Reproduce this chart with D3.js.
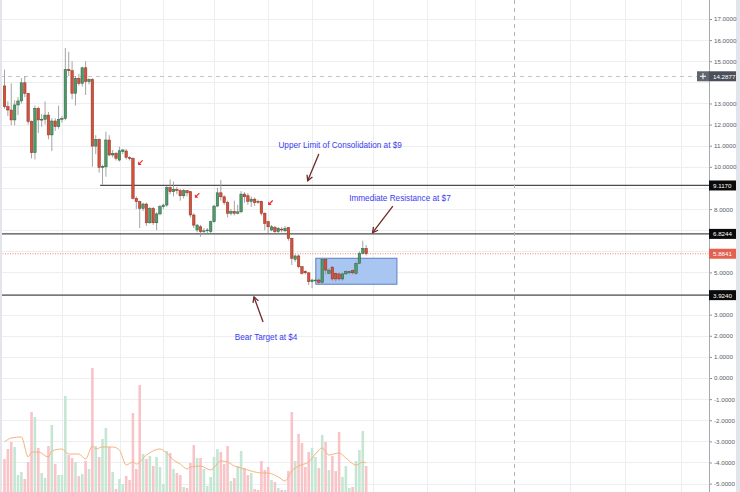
<!DOCTYPE html>
<html><head><meta charset="utf-8">
<script src="https://cdn.jsdelivr.net/npm/d3@7"></script>
<style>body{margin:0;background:#fff;overflow:hidden}svg{display:block;font-family:"Liberation Sans",Arial,sans-serif}</style>
</head><body><svg id="c" width="740" height="492"></svg>
<script>
// ---- data ----
const opens  = [13.83,12.85,12.69,12.22,12.93,13.12,13.98,13.48,12.14,10.67,12.77,12.22,12.25,12.45,11.51,12.17,11.9,12.25,12.29,14.61,14.55,13.48,14.19,13.95,14.69,14.03,14.14,10.98,11.30,9.97,10.0,11.27,10.56,10.64,10.32,10.72,10.75,10.43,10.40,8.51,8.35,8.03,8.24,7.35,8.03,7.35,7.77,8.11,8.19,9.01,8.82,8.93,8.87,8.63,8.87,8.82,7.72,7.01,7.16,6.93,6.97,6.93,7.40,8.14,8.77,8.58,8.30,7.80,7.89,7.80,7.87,8.71,8.63,8.36,8.47,8.36,8.36,7.80,7.40,7.01,7.13,6.93,7.05,6.97,7.13,6.61,5.62,5.78,5.27,5.05,4.98,4.56,4.60,4.64,4.53,5.62,4.96,5.25,4.96,4.93,4.69,4.93,4.98,5.08,4.95,5.43,5.90,6.14];
const highs  = [14.6,13.1,13.95,13.15,13.3,14.2,14.3,13.5,12.2,12.9,12.85,12.5,13.1,12.6,12.3,12.3,12.9,12.4,15.62,15.45,15.0,14.3,14.4,14.75,15.0,14.2,14.2,11.5,11.35,10.1,11.66,11.5,10.8,10.7,10.95,10.85,10.85,10.5,10.45,8.6,8.4,8.3,8.3,8.1,8.1,7.85,8.2,8.25,9.1,9.4,9.3,9.05,8.95,8.95,8.9,8.85,7.8,7.3,7.25,7.1,7.1,7.45,8.2,9.0,9.37,8.65,8.4,8.0,8.4,8.2,8.85,8.8,8.75,8.6,8.55,8.45,8.4,7.85,7.45,7.25,7.2,7.15,7.15,7.2,7.15,6.65,5.85,5.85,5.3,5.1,5.0,4.7,4.8,4.7,5.7,5.65,5.2,5.3,5.0,5.0,5.0,5.1,5.1,5.15,5.5,6.0,6.5,6.3];
const lows   = [12.75,12.4,11.97,11.97,12.45,13.0,13.3,12.0,10.4,10.35,11.6,11.9,12.0,11.3,10.75,11.7,11.8,12.1,12.2,14.3,13.2,12.9,13.85,13.8,13.4,13.9,10.0,10.6,9.72,9.14,9.53,10.5,10.45,10.3,10.25,10.6,10.35,10.3,8.45,8.0,7.1,7.9,7.2,7.3,7.25,7.0,7.7,8.0,8.1,8.7,8.6,8.7,8.4,8.5,8.6,7.6,7.1,6.9,6.69,6.8,6.85,6.85,7.35,8.1,8.4,8.2,7.6,7.7,7.7,7.75,7.8,8.3,8.2,8.1,8.15,8.25,7.7,7.0,6.85,6.95,6.85,6.85,6.9,6.9,6.5,5.35,5.5,5.2,4.9,4.9,4.4,4.25,4.5,4.45,4.45,4.9,4.9,4.6,4.55,4.6,4.6,4.9,4.9,4.9,4.9,5.4,5.85,5.8];
const closes = [12.85,12.69,12.22,12.93,13.12,13.98,13.48,12.14,10.67,12.77,12.22,12.25,12.45,11.51,12.17,11.9,12.25,12.29,14.61,14.55,13.48,14.19,13.95,14.69,14.03,14.14,10.98,11.30,9.97,10.02,11.27,10.56,10.64,10.40,10.76,10.80,10.45,10.40,8.51,8.35,8.03,8.24,7.35,8.03,7.35,7.77,8.11,8.19,9.01,8.82,8.93,8.87,8.63,8.87,8.77,7.72,7.24,7.24,6.93,6.97,7.01,7.40,8.14,8.77,8.58,8.30,7.80,7.89,7.80,7.87,8.71,8.58,8.36,8.47,8.30,8.33,7.80,7.32,7.16,7.16,6.93,7.09,7.01,7.09,6.61,5.67,5.78,5.27,4.96,4.98,4.56,4.64,4.64,4.53,5.62,5.11,5.11,4.69,4.69,4.69,4.93,5.04,5.04,4.98,5.43,5.90,6.14,5.884];
const volumes= [33,43,50,45,17,20,13,30,80,75,44,19,14,46,67,28,17,17,96,37,34,30,16,18,31,23,124,46,35,53,64,45,20,3,13,8,16,12,79,23,107,38,33,36,26,35,25,8,41,39,23,19,17,5,4,29,47,34,34,23,6,15,35,43,40,28,46,11,14,26,41,24,17,19,3,2,31,22,25,12,10,4,2,2,21,80,31,58,49,25,40,44,35,24,57,50,22,36,21,60,15,26,4,5,31,42,61,26];
// volume moving-average line, read at these candle positions
const maIndex = [0,2,5,7,8,10,13,14,17,19,22,24,26,27,29,32,34,36,38,39,42,46,48,50,52,54,55,58,61,64,66,68,70,73,76,78,81,83,85,87,90,92,94,96,99,101,104,106,107];
const maValue = [50,54,55,35,40,40,35,41,43,38,38,33,46,43,45,45,42,27,30,28,37,43,39,32,28,23,25,26,22,31,30,26,24,21,19,19,15,11,21,26,30,38,44,37,39,34,27,30,29];
const priceTicks = [-5,-4,-3,-2,-1,0,1,2,3,4,5,6,7,8,9,10,11,12,13,14,15,16,17];
const gridIndex = [17,34.2,46.9,62,77.9,91,109,125,139.2,167.3,183.6,200.1];
const levels = [{v:9.117,from:28.3},{v:6.8244,from:-2},{v:3.924,from:-2}];
const lastPrice = 5.8841;
const crossPrice = 14.2877, crossIndex = 150.8;
const zone = {i0:92.1,i1:116.1,p0:5.67,p1:4.44};
const notes = [
  {text:"Upper Limit of Consolidation at $9", i:99.3, p:11.03, ax:93.0, ay:10.61, bx:89.7, by:9.34},
  {text:"Immediate Resistance at $7", i:117.0, p:8.52, ax:114.9, ay:8.14, bx:108.9, by:6.88},
  {text:"Bear Target at $4", i:77.4, p:1.94, ax:76.5, ay:2.65, bx:73.8, by:3.84}
];
const markers = [{i:40.2,p:10.2},{i:57.0,p:8.65},{i:78.7,p:8.3}];

// ---- drawing ----
const svg = d3.select('#c');
const plotR = 709;
const x = d3.scaleLinear().domain([0,209]).range([4.5,4.5+209*3.38]);
const y = d3.scaleLinear().domain([-5,17]).range([483.6,19]);
const yv = d3.scaleLinear().domain([0,130]).range([492,362]);
const N = closes.length;
const data = d3.range(N).map(i=>({i,o:opens[i],h:highs[i],l:lows[i],c:closes[i],v:volumes[i]}));

svg.append('rect').attr('width',740).attr('height',492).attr('fill','#fff');
svg.append('defs').append('clipPath').attr('id','pc').append('rect').attr('x',0).attr('y',0).attr('width',plotR).attr('height',492);
const g = svg.append('g').attr('clip-path','url(#pc)');

// grid
g.selectAll('.hg').data(priceTicks).join('line')
  .attr('x1',0).attr('x2',plotR).attr('y1',d=>Math.round(y(d))+0.5).attr('y2',d=>Math.round(y(d))+0.5)
  .attr('stroke','#eceef0').attr('stroke-width',1);
g.selectAll('.vg').data(gridIndex).join('line')
  .attr('x1',d=>Math.round(x(d))+0.5).attr('x2',d=>Math.round(x(d))+0.5).attr('y1',0).attr('y2',492)
  .attr('stroke','#eceef0').attr('stroke-width',1);

// volume
g.selectAll('.vol').data(data).join('rect')
  .attr('x',d=>x(d.i)-1.3).attr('width',2.6)
  .attr('y',d=>yv(d.v)).attr('height',d=>yv(0)-yv(d.v)+4)
  .attr('fill',d=>d.c>=d.o?'#c6e6d4':'#f8c4c8');
g.append('path').datum(maIndex.map((k,j)=>[k,maValue[j]]))
  .attr('d',d3.line().x(d=>x(d[0])).y(d=>yv(d[1])).curve(d3.curveMonotoneX))
  .attr('fill','none').attr('stroke','#f6b27e').attr('stroke-width',1);

// zone box
g.append('rect').attr('x',x(zone.i0)).attr('width',x(zone.i1)-x(zone.i0))
  .attr('y',y(zone.p0)).attr('height',y(zone.p1)-y(zone.p0))
  .attr('fill','#a9c5f2').attr('stroke','#5d7fc3').attr('stroke-width',1);

// level lines
g.selectAll('.lvl').data(levels).join('line')
  .attr('x1',d=>x(d.from)).attr('x2',plotR).attr('y1',d=>y(d.v)).attr('y2',d=>y(d.v))
  .attr('stroke','#4d4d4d').attr('stroke-width',1.3);
// last price dotted
g.append('line').attr('x1',0).attr('x2',plotR).attr('y1',y(lastPrice)).attr('y2',y(lastPrice))
  .attr('stroke','#e4685a').attr('stroke-width',0.8).attr('stroke-dasharray','1,1.5');
// crosshair
g.append('line').attr('x1',0).attr('x2',697).attr('y1',Math.round(y(crossPrice))+0.5).attr('y2',Math.round(y(crossPrice))+0.5)
  .attr('stroke','#c3c5ca').attr('stroke-width',1).attr('stroke-dasharray','4,4');
g.append('line').attr('x1',Math.round(x(crossIndex))+0.5).attr('x2',Math.round(x(crossIndex))+0.5).attr('y1',0).attr('y2',492)
  .attr('stroke','#b3b5bb').attr('stroke-width',1).attr('stroke-dasharray','4,4');

// candles
const cg = g.append('g');
cg.selectAll('.wick').data(data).join('line')
  .attr('x1',d=>x(d.i)).attr('x2',d=>x(d.i)).attr('y1',d=>y(d.h)).attr('y2',d=>y(d.l))
  .attr('stroke','#9a9a9a').attr('stroke-width',0.9);
cg.selectAll('.body').data(data).join('rect')
  .attr('x',d=>x(d.i)-1.25).attr('width',2.5)
  .attr('y',d=>y(Math.max(d.o,d.c))).attr('height',d=>Math.max(0.8,Math.abs(y(d.o)-y(d.c))))
  .attr('fill',d=>d.c>=d.o?'#4f9a6a':'#d4523c')
  .attr('stroke',d=>d.c>=d.o?'#2c6141':'#8e2e20').attr('stroke-width',0.5);

// red markers
markers.forEach(m=>{
  const cx=x(m.i), cy=y(m.p);
  g.append('path').attr('d',`M${cx+2.2},${cy-2.2}L${cx-1},${cy+1}`).attr('stroke','#ee2a2a').attr('stroke-width',1.2);
  g.append('path').attr('d',`M${cx-2.3},${cy+2.3}L${cx-2.3},${cy-1.2}L${cx+1.2},${cy+2.3}Z`).attr('fill','#ee2a2a');
});

// annotations
const arrowCol = '#6e2a2a';
notes.forEach(n=>{
  const x1=x(n.ax),y1=y(n.ay),x2=x(n.bx),y2=y(n.by);
  g.append('line').attr('x1',x1).attr('y1',y1).attr('x2',x2).attr('y2',y2)
    .attr('stroke',arrowCol).attr('stroke-width',1.3);
  const ang=Math.atan2(y2-y1,x2-x1), L=6, s=0.5;
  const p1=[x2-L*Math.cos(ang-s),y2-L*Math.sin(ang-s)], p2=[x2-L*Math.cos(ang+s),y2-L*Math.sin(ang+s)];
  g.append('path').attr('d',`M${p1[0]},${p1[1]}L${x2},${y2}L${p2[0]},${p2[1]}`)
    .attr('fill','none').attr('stroke',arrowCol).attr('stroke-width',1.3);
  g.append('text').attr('x',x(n.i)).attr('y',y(n.p)).attr('text-anchor','middle').attr('dominant-baseline','central')
    .attr('font-size',8.2).attr('fill','#3b3bf2').text(n.text);
});

// edges
svg.append('rect').attr('x',0).attr('y',0).attr('width',2).attr('height',492).attr('fill','#e2e5ea');
svg.append('rect').attr('x',736).attr('y',0).attr('width',4).attr('height',492).attr('fill','#e2e5eb');

// price axis (labels hidden under the price tags, as in the original)
const tagPrices = levels.map(l=>l.v).concat([lastPrice, crossPrice]);
const shownTicks = priceTicks.filter(t=>tagPrices.every(p=>Math.abs(y(t)-y(p))>=7));
const ax = svg.append('g').attr('transform',`translate(${plotR},0)`)
  .call(d3.axisRight(y).tickValues(shownTicks).tickFormat(d=>d.toFixed(4)).tickSize(3).tickPadding(2));
ax.select('.domain').remove();
ax.selectAll('.tick line').attr('stroke','#8f929a');
ax.selectAll('.tick text').attr('fill','#5a5e68').attr('font-size',6.2).attr('font-family','"Liberation Sans",Arial,sans-serif');
svg.append('line').attr('x1',plotR+0.5).attr('x2',plotR+0.5).attr('y1',0).attr('y2',492).attr('stroke','#a5a8b0').attr('stroke-width',1);

function tag(v,fill,label){
  const cy=y(v);
  svg.append('rect').attr('x',plotR).attr('y',cy-5).attr('width',27).attr('height',10).attr('fill',fill);
  svg.append('text').attr('x',plotR+4).attr('y',cy).attr('dominant-baseline','central')
    .attr('font-size',6.2).attr('fill','#fff').text(label);
}
levels.forEach(l=>tag(l.v,'#0a0a0a',l.v.toFixed(4)));
tag(lastPrice,'#e3604e',lastPrice.toFixed(4));
// crosshair tag with plus box
svg.append('rect').attr('x',697).attr('y',y(crossPrice)-5).attr('width',12).attr('height',10).attr('fill','#60646e');
svg.append('path').attr('d',`M700,${y(crossPrice)}h6M703,${y(crossPrice)-3}v6`).attr('stroke','#fff').attr('stroke-width',1);
tag(crossPrice,'#4b4f5a',crossPrice.toFixed(4));
</script></body></html>
